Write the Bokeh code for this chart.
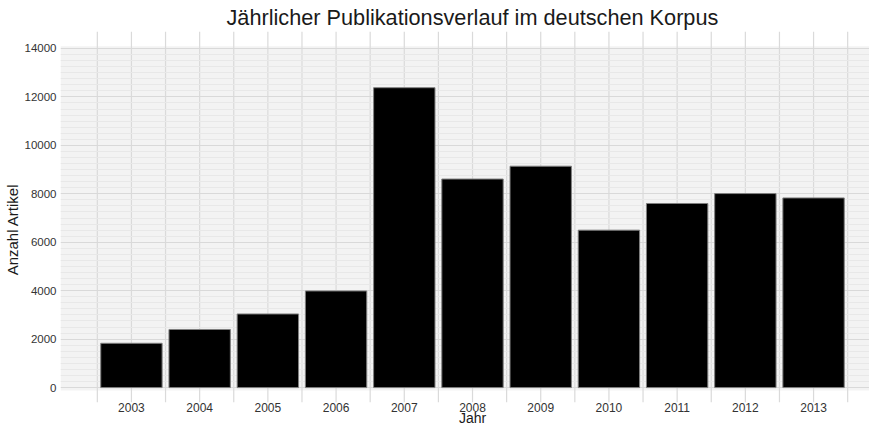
from bokeh.plotting import figure
from bokeh.models import FixedTicker, BoxAnnotation, Range1d, ColumnDataSource
from bokeh.core.properties import value
from bokeh.embed import file_html
from bokeh.resources import INLINE

years = [2003, 2004, 2005, 2006, 2007, 2008, 2009, 2010, 2011, 2012, 2013]
counts = [1830, 2400, 3040, 3990, 12380, 8610, 9140, 6500, 7600, 8010, 7830]
year_labels = [str(y) for y in years]
y_ticks = [0, 2000, 4000, 6000, 8000, 10000, 12000, 14000]

FONT = "Liberation Sans"
Y_TOP = 14700
Y_BOTTOM = -1647

p = figure(width=869, height=427, output_backend="svg", toolbar_location=None,
           x_axis_location=None,
           x_range=Range1d(2001.96, 2013.82), y_range=Range1d(Y_BOTTOM, Y_TOP),
           min_border_left=55, min_border_right=0, min_border_bottom=0,
           min_border_top=0,
           title="Jährlicher Publikationsverlauf im deutschen Korpus")
p.outline_line_color = None
p.background_fill_color = "white"
p.border_fill_color = "white"

p.title.align = "left"
p.title.text_font = FONT
p.title.text_font_size = "21.7px"
p.title.text_font_style = "normal"
p.title.text_color = "#1a1a1a"
p.title.standoff = 4
p.title.offset = 166

# panel background (below the grid lines)
p.add_layout(BoxAnnotation(bottom=-120, top=14090, fill_color="#f3f3f3",
                           fill_alpha=1, line_color=None, level="image"))

# horizontal grid
p.ygrid.ticker = FixedTicker(ticks=y_ticks,
                             minor_ticks=[v for v in range(0, 14001, 250) if v % 2000])
p.ygrid.grid_line_color = "#d9d9d9"
p.ygrid.grid_line_width = 1.2
p.ygrid.minor_grid_line_color = "#e8e8e8"
p.ygrid.minor_grid_line_width = 1
for g in p.xgrid:
    g.visible = False

# vertical grid lines (at years and between years), reaching past the panel
vx = [y + d for y in range(2002, 2014) for d in (0.5, 1.0)][:-1]
p.segment(x0=vx, y0=[-600] * len(vx), x1=vx, y1=[Y_TOP] * len(vx),
          line_color="#dadada", line_width=1.2, level="underlay")

src = ColumnDataSource(dict(year=years, count=counts, label=year_labels))
p.vbar(x="year", top="count", bottom=0, width=0.9, source=src,
       fill_color="black", line_color="#808080", line_width=1)

# x tick labels and axis title
p.text(x="year", y=-830, text="label", source=src,
       text_font=value(FONT), text_font_size="12px", text_color="#333333",
       text_align="center", text_baseline="middle")
p.text(x=[2008], y=[-1260], text=["Jahr"],
       text_font=value(FONT), text_font_size="14px", text_color="#1a1a1a",
       text_align="center", text_baseline="middle")

# y axis
ax = p.yaxis[0]
ax.ticker = FixedTicker(ticks=y_ticks)
ax.axis_line_color = None
ax.major_tick_line_color = None
ax.minor_tick_line_color = None
ax.major_tick_out = 0
ax.major_tick_in = 0
ax.minor_tick_out = 0
ax.minor_tick_in = 0
ax.major_label_text_font = FONT
ax.major_label_text_color = "#333333"
ax.major_label_text_font_size = "11.5px"
ax.major_label_standoff = 4
ax.axis_label = "Anzahl Artikel"
ax.axis_label_text_font = FONT
ax.axis_label_text_font_size = "15px"
ax.axis_label_text_font_style = "normal"
ax.axis_label_text_color = "#1a1a1a"
ax.axis_label_standoff = 1

open("out.html", "w").write(file_html(p, INLINE))
